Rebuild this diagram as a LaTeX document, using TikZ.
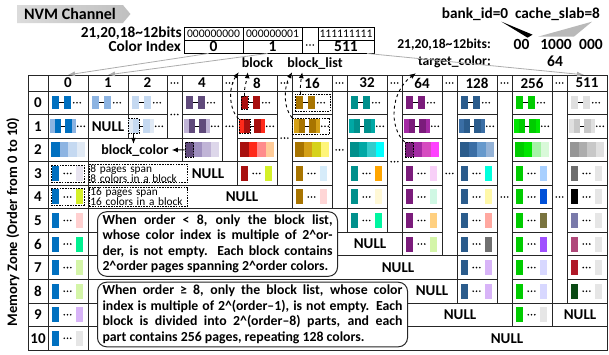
\documentclass[tikz,border=0pt]{standalone}
\usepackage{fontspec}
\setmainfont{Carlito}
\usetikzlibrary{arrows.meta,calc,positioning,shapes.symbols}

% colour index palettes
\definecolor{zc0}{HTML}{0070C0}
\definecolor{zc0b}{HTML}{8DB4E2}
\definecolor{zc0c}{HTML}{C5D9F1}
\definecolor{zc0d}{HTML}{E1EAF5}
\definecolor{zc4}{HTML}{604A7B}
\definecolor{zc4b}{HTML}{9F8FBF}
\definecolor{zc4c}{HTML}{C0B4D6}
\definecolor{zc4d}{HTML}{DDD7EA}
\definecolor{zc8}{HTML}{A8100F}
\definecolor{zc8b}{HTML}{FF2A1A}
\definecolor{zc8c}{HTML}{FF8C8C}
\definecolor{zc8d}{HTML}{FFCC99}
\definecolor{zc16}{HTML}{A87400}
\definecolor{zc16b}{HTML}{D4A017}
\definecolor{zc16c}{HTML}{D6D21C}
\definecolor{zc16d}{HTML}{FFF57A}
\definecolor{zc32}{HTML}{00908C}
\definecolor{zc32b}{HTML}{00A8A5}
\definecolor{zc32c}{HTML}{33CCCC}
\definecolor{zc32d}{HTML}{00FFFF}
\definecolor{zc64}{HTML}{7B1C7B}
\definecolor{zc64b}{HTML}{A42AA4}
\definecolor{zc64c}{HTML}{D64BC0}
\definecolor{zc64d}{HTML}{FF40FF}
\definecolor{zc128}{HTML}{2B5C8C}
\definecolor{zc128b}{HTML}{3A6EA5}
\definecolor{zc128c}{HTML}{6699CC}
\definecolor{zc128d}{HTML}{95B3D7}
\definecolor{zc256}{HTML}{00CC00}
\definecolor{zc256b}{HTML}{00E600}
\definecolor{zc256c}{HTML}{A6F2A6}
\definecolor{zc256d}{HTML}{D9F9D9}
\definecolor{zc511}{HTML}{969696}
\definecolor{zc511b}{HTML}{ADADAD}
\definecolor{zc511c}{HTML}{C8C8C8}
\definecolor{zc511d}{HTML}{E0E0E0}
% last page of a block
\definecolor{klav}{HTML}{E8E4F0}
\definecolor{klime}{HTML}{D4F028}
\definecolor{kpink}{HTML}{FFD0D0}
\definecolor{kmint}{HTML}{00F090}
\definecolor{kpgreen}{HTML}{D4F5A8}
\definecolor{klilac}{HTML}{D8B4F8}
\definecolor{klgrey}{HTML}{E6E6E6}
\definecolor{ksky}{HTML}{D6ECFA}
\definecolor{kpinkl}{HTML}{FFD6D6}
\definecolor{korange}{HTML}{FFA500}
\definecolor{kcream}{HTML}{FFF8D6}
\definecolor{kspring}{HTML}{00F5A0}
\definecolor{korchid}{HTML}{F8D0F8}
\definecolor{kmintl}{HTML}{D0F8E4}
\definecolor{kapricot}{HTML}{FFD080}
\definecolor{kaqua}{HTML}{00FFDD}
\definecolor{klemon}{HTML}{FFF8A8}
\definecolor{ksalmon}{HTML}{FFA8A0}
\definecolor{kdgrey}{HTML}{707070}
\definecolor{kskyb}{HTML}{A8D0FF}
\definecolor{kroyal}{HTML}{0050D8}
\definecolor{kolive}{HTML}{7A7440}
\definecolor{kviolet}{HTML}{A050FF}
\definecolor{klavb}{HTML}{D8D8FF}
\definecolor{kgrey}{HTML}{6E6E6E}
\definecolor{kslate}{HTML}{7A7AAA}
\definecolor{krose}{HTML}{B0487A}
\definecolor{kcrimson}{HTML}{B01828}
\definecolor{kdgreen}{HTML}{0A4A14}

\tikzset{
  grid/.style={draw=black!85, line width=0.9pt},
  link/.style={black, line width=0.9pt},
  hd/.style={font=\fontsize{15}{17}\selectfont\bfseries, inner sep=0pt, minimum height=16pt},
  nul/.style={font=\fontsize{15}{17}\selectfont\bfseries, inner sep=0pt},
  lbl/.style={font=\fontsize{15.3}{17}\selectfont\bfseries, inner sep=0pt},
  lbls/.style={font=\fontsize{14}{16}\selectfont\bfseries, inner sep=0pt, text height=10pt, text depth=2pt},
  lblt/.style={font=\fontsize{13.6}{16}\selectfont\bfseries, inner sep=0pt, text height=10pt, text depth=2pt},
  num/.style={font=\fontsize{15.5}{18}\selectfont\bfseries, inner sep=0pt},
  bitcell/.style={draw, line width=0.9pt, minimum height=13pt, inner sep=0pt, font=\fontsize{11.6}{14}\selectfont},
  idxcell/.style={bitcell, font=\fontsize{15.5}{16}\selectfont\bfseries},
  dbox/.style={draw, dashed, dash pattern=on 1.6pt off 1.1pt, line width=0.8pt, inner sep=0pt},
  tbox/.style={dbox, text width=96pt, inner xsep=1pt, inner ysep=0.5pt, align=left, font=\fontsize{11.3}{9.8}\selectfont},
  note/.style={draw=black!85, line width=1pt, fill=white, rounded corners=9pt, inner xsep=5pt, inner ysep=3pt, align=justify, font=\fontsize{13.8}{15.5}\selectfont\bfseries},
  tag/.style={signal, signal to=east, signal pointer angle=100, left color=gray!28, right color=gray!50, inner xsep=7pt, inner ysep=2pt, minimum height=18pt, font=\fontsize{16}{18}\selectfont\bfseries},
  solarr/.style={-{Latex[length=6pt,width=5pt]}, line width=0.9pt},
  darr/.style={solarr, dashed},
  idx/.style={draw=gray!65, line width=0.8pt, -{Latex[length=7pt,width=5pt]}}
}

\newcommand{\crt}{\textasciicircum}
\newcommand{\dts}[2]{\fill ({#1-3.3},{#2}) circle (0.9pt) ({#1},{#2}) circle (0.9pt) ({#1+3.3},{#2}) circle (0.9pt);}
\newcommand{\tcell}[4]{\draw[grid] (#1,{91+23.55*(#3)}) rectangle (#2,{91+23.55*(#4)});}
% order 0: page - page ...
\newcommand{\rowA}[3]{%
  \pgfmathsetmacro\yc{102.75+23.55*(#2)}%
  \fill[#3] ({#1+4},{\yc-6.5}) rectangle ++(7,13);
  \draw[link] ({#1+11},\yc) -- ({#1+16},\yc);
  \fill[#3] ({#1+16},{\yc-6.5}) rectangle ++(7,13);
  \dts{#1+29}{\yc}}
% order 1: two pages - two pages ...
\newcommand{\rowB}[4]{%
  \pgfmathsetmacro\yc{102.75+23.55*(#2)}%
  \fill[#4] ({#1+2},{\yc-7}) rectangle ++(4.5,14);
  \fill[#3] ({#1+6.5},{\yc-7}) rectangle ++(6.5,14);
  \draw[link] ({#1+13},\yc) -- ({#1+17},\yc);
  \fill[#3] ({#1+17},{\yc-7}) rectangle ++(6.5,14);
  \fill[#4] ({#1+23.5},{\yc-7}) rectangle ++(4.5,14);
  \dts{#1+33}{\yc}}
% order 2: four pages
\newcommand{\rowC}[6]{%
  \pgfmathsetmacro\yc{102.75+23.55*(#2)}%
  \foreach \cc [count=\ii from 0] in {#3,#4,#5,#6}{\fill[\cc] ({#1+3+8.6*\ii},{\yc-7.5}) rectangle ++(8.6,15);}}
% higher orders: first ... last
\newcommand{\rowD}[4]{%
  \pgfmathsetmacro\yc{102.75+23.55*(#2)}%
  \fill[#3] ({#1+4},{\yc-7.5}) rectangle ++(7,15);
  \dts{#1+19.5}{\yc}
  \fill[#4] ({#1+28},{\yc-7.5}) rectangle ++(7,15);}

\begin{document}
\begin{tikzpicture}[x=1pt,y=-1pt]
\useasboundingbox (0,0) rectangle (609,354);

\node[tag, anchor=west] (nvm) at (17,14) {NVM Channel};

% bits of the colour index
\node[lbl, anchor=east] (bits) at (182,33.5) {21,20,18\textasciitilde12bits};
\node[lbl, anchor=east] (cidx) at (181,46.5) {Color Index};
\node[bitcell, minimum width=59pt] (bv0) at (213.5,33.5) {000000000};
\node[bitcell, minimum width=59pt] (bv1) at (272.5,33.5) {000000001};
\node[bitcell, minimum width=56pt] (bv511) at (346,33.5) {111111111};
\node[idxcell, minimum width=59pt] (ci0) at (213.5,46.5) {0};
\node[idxcell, minimum width=59pt] (ci1) at (272.5,46.5) {1};
\node[idxcell, minimum width=56pt] (ci511) at (346,46.5) {511};
\node[draw, line width=0.9pt, minimum width=16pt, minimum height=26pt, inner sep=0pt] (cidots) at (310,40) {};
\dts{310}{45}

% target colour
\node[lbl] (bank) at (475,14) {bank\_id=0};
\node[lbl] (slab) at (557.5,14) {cache\_slab=8};
\node[lblt, anchor=east] (bits2) at (491,44) {21,20,18\textasciitilde12bits:};
\node[lblt, anchor=east] (tcol) at (491,61) {target\_color:};
\node[num] (b00) at (521.5,44) {00};
\node[num] (b1000) at (556,44) {1000};
\node[num] (b000) at (591,44) {000};
\node[num] (c64) at (555,61) {64};
\fill[black] ([xshift=-7pt,yshift=-1pt]bank.south east) -- ([xshift=3pt,yshift=4pt]b00.north east) -- ([xshift=-2pt,yshift=1pt]b00.north east) -- cycle;
\fill[gray!55] ([xshift=-8pt,yshift=-1pt]slab.south east) -- ([xshift=2pt,yshift=2pt]b1000.north east) -- ([xshift=-2pt,yshift=2pt]b1000.north west) -- cycle;

% header row
\foreach \a/\b in {28/48,48/88,88/128,128/167,167/182,182/222,222/237,237/277,277/292,292/332,332/347,347/387,387/402,402/442,442/457,457/497,497/512,512/552,552/567,567/607}
  {\draw[grid] (\a,75) rectangle (\b,91);}
\foreach \x/\t/\n in {68/0/h0,108/1/h1,147.5/2/h2,202/4/h4,257/8/h8,312/16/h16,367/32/h32,422/64/h64,477/128/h128,532/256/h256,587/511/h511}
  {\node[hd] (\n) at (\x,83) {\t};}
\foreach \x in {174.5,229.5,284.5,339.5,394.5,449.5,504.5,559.5} {\dts{\x}{83}}

% zones
\node[rotate=90, font=\fontsize{14.5}{16}\selectfont\bfseries] (mz) at (13,222) {Memory Zone (Order from 0 to 10)};
\foreach \r in {0,...,10} {\tcell{28}{48}{\r}{\r+1}\tcell{48}{88}{\r}{\r+1}
  \node[hd] (z\r) at (38,{102.75+23.55*\r}) {\r};}
\foreach \a/\b/\n in {88/128/1,128/167/1,182/222/2,237/277/3,292/332/4,347/387/5,402/442/6,457/497/8,512/552/9,567/607/8}
  {\foreach \r in {0,...,\n} {\tcell{\a}{\b}{\r}{\r+1}}}
\foreach \a/\b/\n in {167/182/2,222/237/3,277/292/4,332/347/5,387/402/6,442/457/7,497/512/9,552/567/9}
  {\tcell{\a}{\b}{0}{\n}\dts{(\a+\b)/2}{91+23.55*\n/2}}
\tcell{88}{182}{2}{3}
\tcell{88}{237}{3}{4}
\tcell{88}{292}{4}{5}
\tcell{88}{347}{5}{6}
\tcell{88}{402}{6}{7}
\tcell{88}{457}{7}{8}
\tcell{88}{457}{8}{9}
\tcell{88}{512}{9}{10}
\tcell{552}{607}{9}{10}
\tcell{88}{607}{10}{11}

% free lists
\foreach \x/\c in {48/zc0,88/zc0b,128/zc0c,182/zc4,237/zc8,292/zc16,347/zc32,402/zc64,457/zc128,512/zc256,567/zc511d}
  {\rowA{\x}{0}{\c}}
\foreach \x/\c/\d in {48/zc0/zc0b,126/zc0c/zc0d,182/zc4/zc4c,237/zc8/zc8b,292/zc16/zc16b,347/zc32/zc32b,402/zc64/zc64b,457/zc128/zc128b,512/zc256/zc256b,567/zc511c/zc511d}
  {\rowB{\x}{1}{\c}{\d}}
\rowC{48}{2}{zc0}{zc0b}{zc0c}{zc0d}
\rowC{182}{2}{zc4}{zc4b}{zc4c}{zc4d}
\rowC{237}{2}{zc8}{zc8b}{zc8c}{zc8d}
\rowC{292}{2}{zc16}{zc16b}{zc16c}{zc16d}
\rowC{347}{2}{zc32}{zc32b}{zc32c}{zc32d}
\rowC{402}{2}{zc64}{zc64b}{zc64c}{zc64d}
\rowC{457}{2}{zc128}{zc128b}{zc128c}{zc128d}
\rowC{512}{2}{zc256}{zc256b}{zc256c}{zc256d}
\rowC{567}{2}{zc511}{zc511b}{zc511c}{zc511d}
\foreach \r/\c in {3/klav,4/klime,5/kpink,6/kmint,7/kpgreen,8/kpgreen,9/klilac,10/klgrey} {\rowD{48}{\r}{zc0}{\c}}
\rowD{237}{3}{zc8}{klime}
\foreach \r/\c in {3/ksky,4/kpinkl} {\rowD{292}{\r}{zc16}{\c}}
\foreach \r/\c in {3/korange,4/kcream,5/kspring} {\rowD{347}{\r}{zc32}{\c}}
\foreach \r/\c in {3/korchid,4/kmintl,5/kapricot,6/kpgreen} {\rowD{402}{\r}{zc64}{\c}}
\foreach \r/\c in {3/kaqua,4/klemon,5/ksalmon,6/kdgrey,7/klilac,8/klilac} {\rowD{457}{\r}{zc128}{\c}}
\foreach \r/\c in {3/kskyb,4/kroyal,5/kolive,6/kviolet,7/klavb,8/klavb,9/klgrey} {\rowD{512}{\r}{zc256}{\c}}
\foreach \r/\c in {3/kgrey,4/black,5/kslate,6/krose,7/kcrimson,8/kdgreen} {\rowD{567}{\r}{\c}{klgrey}}

% marked blocks
\node[dbox, minimum width=33pt, minimum height=17pt] (s0a) at (67.5,173.4) {};
\node[dbox, minimum width=33pt, minimum height=17pt] (s0b) at (67.5,196.9) {};
\node[dbox, minimum width=11pt, minimum height=15pt] (s2) at (133.5,126.3) {};
\node[dbox, minimum width=8.6pt, minimum height=15pt] (s4) at (189.3,149.8) {};
\node[dbox, minimum width=7pt, minimum height=13pt] (s8a) at (244.5,102.75) {};
\node[dbox, minimum width=11pt, minimum height=14pt] (s8b) at (244.5,126.3) {};
\node[dbox, minimum width=35pt, minimum height=17pt] (s16a) at (312.5,102.75) {};
\node[dbox, minimum width=37pt, minimum height=16pt] (s16b) at (311,126.3) {};
\node[dbox, minimum width=8.6pt, minimum height=15pt] (s64) at (409.3,149.8) {};

\node[lbls] (bc) at (135,150) {block\_color};
\node[lbls] (blk) at (257.5,63) {block};
\node[lbls] (blist) at (315,63) {block\_list};
\node[tbox, anchor=west] (span8) at (89,173.4) {\mbox{8 pages span}\\\mbox{8 colors in a block}};
\node[tbox, anchor=west] (span16) at (89,196.9) {\mbox{16 pages span}\\\mbox{16 colors in a block}};

% NULL lists
\node[nul] (n1) at (108,126.3) {NULL};
\node[nul] (n3) at (208,173.4) {NULL};
\node[nul] (n4) at (242,196.9) {NULL};
\node[nul] (n6) at (370,244) {NULL};
\node[nul] (n7) at (398,267.6) {NULL};
\node[nul] (n8) at (432,291.1) {NULL};
\node[nul] (n9a) at (460,314.7) {NULL};
\node[nul] (n9b) at (580,314.7) {NULL};
\node[nul] (n10) at (507,338.2) {NULL};

\node[note, text width=230pt, minimum height=64pt, anchor=west] (lownote) at (97,244)
  {\parfillskip=0pt When order < 8, only the block list,\linebreak whose color index is multiple of 2\crt or-\linebreak der, is not empty. Each block contains\linebreak 2\crt order pages spanning 2\crt order colors.};
\node[note, text width=300pt, minimum height=63pt, anchor=west] (highnote) at (97,314.5)
  {When order ≥ 8, only the block list, whose color\linebreak index is multiple of 2\crt(order–1), is not empty. Each\linebreak block is divided into 2\crt(order–8) parts, and each\linebreak part contains 256 pages, repeating 128 colors.};

% arrows
\draw[idx] ([xshift=-5pt]ci0.south) -- (h0.north);
\draw[idx] ([xshift=-5pt]ci1.south) -- (h1.north);
\draw[idx] ([xshift=21pt]ci511.south) -- ([xshift=-3pt]h511.north);
\draw[solarr] (s2.south) -- (s2.south |- bc.north);
\draw[solarr] (s4.west) -- ([xshift=3pt]bc.east);
\draw[darr] (s8a.north) .. controls (244,86) and (247,80) .. ([xshift=6pt,yshift=-3pt]blk.south west);
\draw[darr] (s8b.north west) .. controls (228,108) and (229,86) .. ([xshift=-3pt,yshift=-3pt]blk.south west);
\draw[darr] ([xshift=-12pt]s16a.north) .. controls (300,85) and (301,80) .. ([xshift=15pt,yshift=-3pt]blist.south west);
\draw[darr] (s16b.north west) .. controls (283,108) and (284,86) .. ([xshift=5pt,yshift=-3pt]blist.south west);
\draw[darr] (s64.north west) .. controls (389,128) and (390,92) .. ([xshift=-2pt,yshift=-6pt]tcol.south west);

\end{tikzpicture}
\end{document}
